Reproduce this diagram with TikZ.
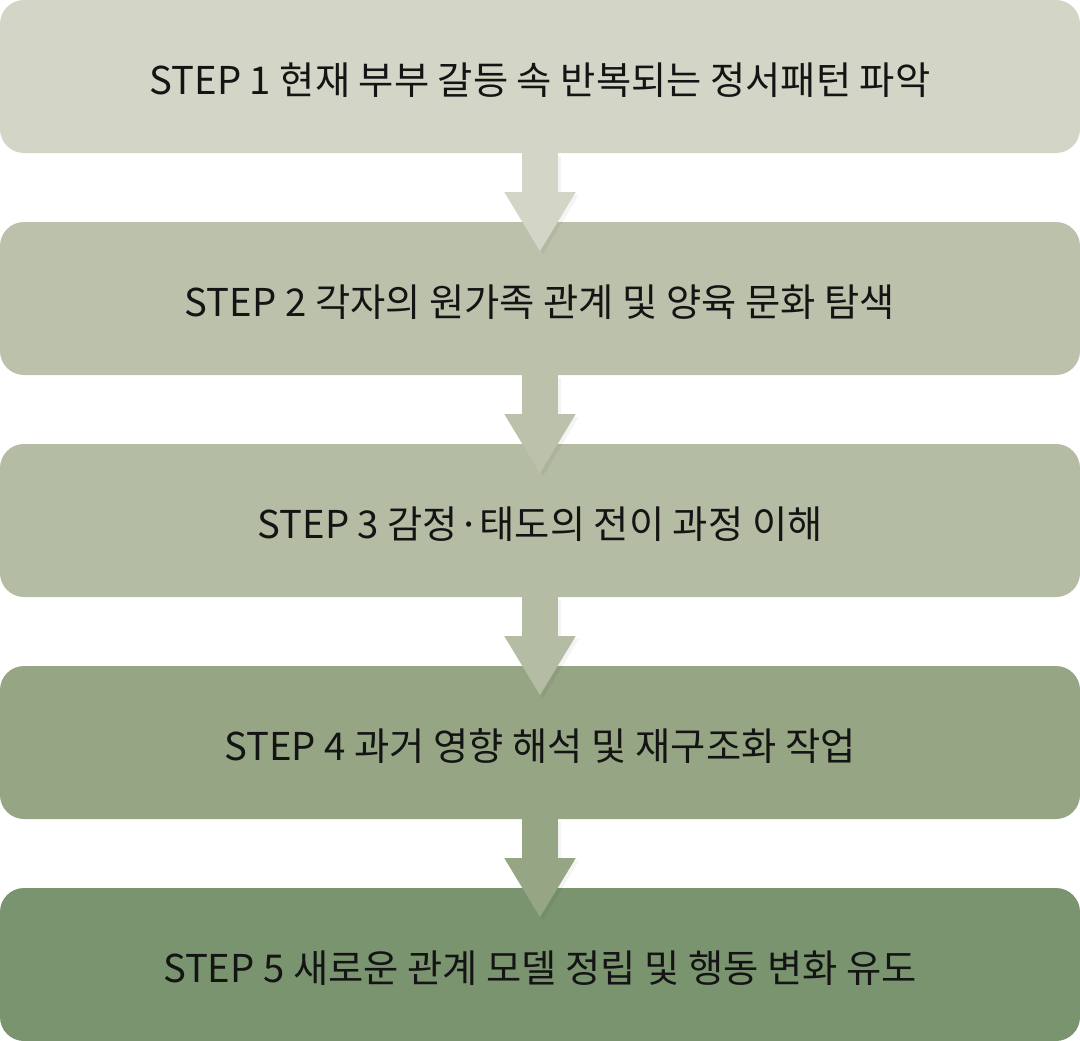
\documentclass[tikz,border=0pt]{standalone}
\usepackage{fontspec}
\setmainfont{Noto Sans CJK KR}
\usetikzlibrary{positioning,arrows.meta}

\definecolor{stepA}{RGB}{211,213,198}
\definecolor{stepB}{RGB}{188,193,172}
\definecolor{stepC}{RGB}{180,188,163}
\definecolor{stepD}{RGB}{150,165,131}
\definecolor{stepE}{RGB}{122,148,111}

\begin{document}
\begin{tikzpicture}[x=1pt, y=1pt,
  stepbox/.style={rectangle, rounded corners=24pt, minimum width=1080pt,
    minimum height=153pt, inner sep=0pt, outer sep=0pt,
    font=\fontsize{38.3}{46}\selectfont, text=black!92},
  flow/.style={line width=36pt, -{Triangle[length=60pt, width=67pt]}},
  flowshade/.style={flow, draw=black, opacity=0.045}]
  \useasboundingbox (0,0) rectangle (1080,-1041);
  % the five steps
  \node[stepbox, fill=stepA, anchor=north west] (s1) at (0,0) {};
  \node[stepbox, fill=stepB, below=69pt of s1] (s2) {};
  \node[stepbox, fill=stepC, below=69pt of s2] (s3) {};
  \node[stepbox, fill=stepD, below=69pt of s3] (s4) {};
  \node[stepbox, fill=stepE, below=69pt of s4] (s5) {};
  % arrows between steps
  \draw[flowshade] ([shift={(3pt,-3pt)}]s1.south) -- ([shift={(3pt,-33pt)}]s2.north);
  \draw[flow, draw=stepA] (s1.south) -- ([yshift=-30pt]s2.north);
  \draw[flowshade] ([shift={(3pt,-3pt)}]s2.south) -- ([shift={(3pt,-33pt)}]s3.north);
  \draw[flow, draw=stepB] (s2.south) -- ([yshift=-30pt]s3.north);
  \draw[flowshade] ([shift={(3pt,-3pt)}]s3.south) -- ([shift={(3pt,-33pt)}]s4.north);
  \draw[flow, draw=stepC] (s3.south) -- ([yshift=-30pt]s4.north);
  \draw[flowshade] ([shift={(3pt,-3pt)}]s4.south) -- ([shift={(3pt,-33pt)}]s5.north);
  \draw[flow, draw=stepD] (s4.south) -- ([yshift=-30pt]s5.north);
  % step texts
  \node[stepbox, yshift=-4pt] (t1) at (s1) {STEP 1 현재 부부 갈등 속 반복되는 정서패턴 파악};
  \node[stepbox, yshift=-4pt] (t2) at (s2) {STEP 2 각자의 원가족 관계 및 양육 문화 탐색};
  \node[stepbox, yshift=-4pt] (t3) at (s3) {STEP 3 감정·태도의 전이 과정 이해};
  \node[stepbox, yshift=-4pt] (t4) at (s4) {STEP 4 과거 영향 해석 및 재구조화 작업};
  \node[stepbox, yshift=-4pt] (t5) at (s5) {STEP 5 새로운 관계 모델 정립 및 행동 변화 유도};
\end{tikzpicture}
\end{document}
